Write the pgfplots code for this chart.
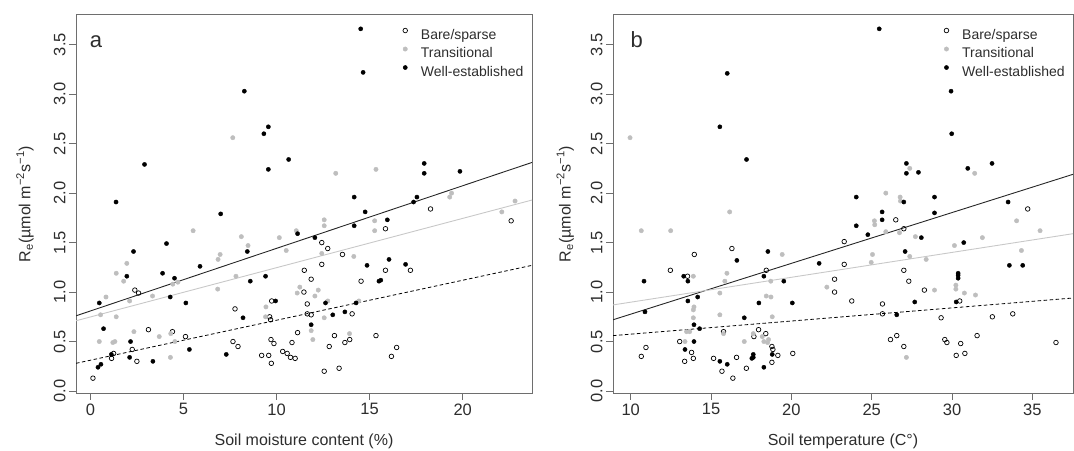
\documentclass[border=0pt]{standalone}
\usepackage{pgfplots}
\pgfplotsset{compat=1.18}
\usepackage{fontspec}
\setmainfont{Liberation Sans}
\definecolor{trans}{RGB}{190,190,190}
\definecolor{transline}{RGB}{200,200,200}
\definecolor{framec}{RGB}{110,110,110}
\definecolor{txt}{RGB}{45,45,45}

\pgfplotsset{
 rstyle/.style={
  scale only axis, height=378pt,
  axis line style={framec, line width=1pt},
  tick align=outside, tick pos=left, major tick length=7pt,
  tick style={framec, line width=0.8pt},
  ymin=-0.02, ymax=3.80, ytick={0,0.5,1,1.5,2,2.5,3,3.5},
  /pgf/number format/assume math mode=true,
  yticklabel style={rotate=90, anchor=south, /pgf/number format/.cd, fixed, fixed zerofill, precision=1},
  ticklabel style={font=\fontsize{16.5}{18}\selectfont, text=txt},
  label style={font=\fontsize{16}{18}\selectfont, text=txt},
  ylabel={R\textsubscript{e}(µmol m\textsuperscript{−2}s\textsuperscript{−1})},
  legend cell align=left,
  legend image code/.code={\draw[#1] plot coordinates {(6pt,5pt)}; \path (0pt,0pt) (20pt,0pt);},
  legend style={draw=none, fill=none, inner sep=0pt, row sep=2pt,
     font=\fontsize{14}{16}\selectfont,
     nodes={inner sep=1.5pt, text height=10.5pt, text depth=3pt, text=txt}},
 },
 bare/.style={only marks, mark=o, mark size=2.3pt, mark options={draw=black, line width=0.7pt}},
 tran/.style={only marks, mark=*, mark size=2.2pt, mark options={draw=trans, fill=trans}},
 well/.style={only marks, mark=*, mark size=2.1pt, mark options={draw=black, fill=black}},
}

\begin{document}
\begin{tikzpicture}
\useasboundingbox (0pt,0pt) rectangle (1074pt,450pt);

% ---------------- Panel a ----------------
\begin{axis}[rstyle, at={(76pt,57pt)}, anchor=south west, width=456pt,
  xmin=-0.77, xmax=23.72, xtick={0,5,10,15,20},
  xlabel={Soil moisture content (\%)},
  xlabel style={at={(axis description cs:0.5,-0.127)}, anchor=center},
  ylabel style={at={(axis description cs:-0.112,0.5)}, anchor=center},
  legend style={at={(axis description cs:0.708,0.968)}, anchor=north west},
]
\addplot[bare] coordinates {
(22.6,1.72) (18.27,1.84) (15.85,1.64) (2.39,1.02) (2.59,0.99) (9.74,0.91) (7.77,0.83)
(9.63,0.75) (9.68,0.72) (3.12,0.62) (4.41,0.60) (5.11,0.55) (7.66,0.50) (7.93,0.45)
(9.70,0.52) (9.86,0.48) (1.25,0.38) (1.14,0.33) (2.25,0.42) (2.5,0.30) (9.2,0.36)
(9.58,0.36) (9.72,0.28) (0.14,0.13)
(12.43,1.50) (12.75,1.44) (13.54,1.38) (12.43,1.28) (15.85,1.22) (17.19,1.22) (11.49,1.22)
(11.86,1.13) (14.54,1.11) (11.47,1.00) (11.65,0.88) (11.65,0.78) (11.86,0.77) (14.06,0.78)
(11.13,0.59) (13.11,0.56) (15.34,0.56) (13.93,0.52) (13.67,0.49) (10.83,0.49) (12.83,0.45)
(16.45,0.44) (10.33,0.40) (10.57,0.38) (10.75,0.34) (11.0,0.33) (16.17,0.35) (13.36,0.23)
(12.56,0.20)
};
\addlegendentry{Bare/sparse}
\addplot[tran] coordinates {
(7.65,2.56) (13.18,2.20) (15.34,2.24) (19.4,2.0) (19.3,1.96) (22.81,1.92) (22.1,1.81)
(12.56,1.73) (12.56,1.67) (15.27,1.72) (5.52,1.62) (8.11,1.56) (8.47,1.47) (10.15,1.55)
(6.97,1.38) (6.86,1.33) (1.96,1.29) (1.39,1.19) (7.82,1.16) (1.79,1.11) (4.43,1.08)
(4.70,1.10) (0.84,0.95) (3.34,0.96) (6.84,1.03) (2.11,0.91) (0.55,0.77) (1.39,0.75)
(9.41,0.75) (2.34,0.60) (4.32,0.58) (3.70,0.55) (0.48,0.50) (1.21,0.49) (1.32,0.50)
(4.54,0.50) (4.30,0.34) (15.27,1.62) (11.06,1.62) (10.52,1.42) (12.43,1.39) (14.15,1.36)
(11.25,1.05) (11.11,0.99) (12.24,1.02) (12.06,0.96) (9.43,0.85) (12.75,0.91) (14.42,0.91)
(12.56,0.74) (11.86,0.61) (13.92,0.58) (11.95,0.52)
};
\addlegendentry{Transitional}
\addplot[well] coordinates {
(8.27,3.03) (9.32,2.60) (9.56,2.67) (9.56,2.24) (2.91,2.29) (1.38,1.91) (7.0,1.79)
(14.52,3.66) (14.65,3.22) (10.65,2.34) (17.93,2.30) (17.93,2.20) (19.85,2.22) (14.17,1.96)
(17.54,1.96) (17.36,1.91) (14.76,1.81) (14.17,1.67) (15.95,1.73) (4.09,1.49) (2.32,1.41)
(8.43,1.41) (5.89,1.26) (3.88,1.19) (1.96,1.16) (4.52,1.14) (9.41,1.16) (8.59,1.11)
(4.29,0.95) (5.13,0.89) (0.48,0.89) (9.95,0.91) (8.2,0.74) (0.71,0.63) (2.16,0.50)
(1.13,0.37) (2.11,0.34) (5.32,0.42) (3.36,0.30) (7.30,0.37) (0.57,0.27) (0.41,0.24)
(11.13,1.59) (12.06,1.55) (16.04,1.33) (16.93,1.28) (14.86,1.27) (15.5,1.11) (15.6,1.12)
(12.63,0.89) (14.27,0.89) (13.02,0.77) (13.67,0.80) (11.86,0.67)
};
\addlegendentry{Well-established}
\addplot[forget plot, color=black!85, line width=0.9pt] coordinates {(-0.77,0.76) (23.72,2.31)};
\addplot[forget plot, color=transline, line width=0.9pt] coordinates {(-0.77,0.71) (23.72,1.93)};
\addplot[forget plot, color=black, line width=0.8pt, dash pattern=on 3.5pt off 2.5pt] coordinates {(-0.77,0.28) (23.72,1.27)};
\node[font=\fontsize{22}{24}\selectfont, text=txt, anchor=center] at (rel axis cs:0.044,0.929) {a};
\end{axis}

% ---------------- Panel b ----------------
\begin{axis}[rstyle, at={(613pt,57pt)}, anchor=south west, width=460pt,
  xmin=8.90, xmax=37.53, xtick={10,15,20,25,30,35},
  xlabel={Soil temperature (C°)},
  xlabel style={at={(axis description cs:0.5,-0.127)}, anchor=center},
  ylabel style={at={(axis description cs:-0.104,0.5)}, anchor=center},
  legend style={at={(axis description cs:0.711,0.968)}, anchor=north west},
]
\addplot[bare] coordinates {
(34.71,1.84) (26.5,1.73) (27.0,1.64) (16.30,1.44) (13.96,1.38) (12.47,1.22) (18.44,1.22)
(13.54,1.16) (17.96,0.62) (15.78,0.60) (18.41,0.58) (17.67,0.55) (13.05,0.50) (18.79,0.45)
(10.95,0.44) (13.79,0.39) (18.85,0.42) (19.16,0.36) (20.09,0.38) (10.66,0.35) (13.90,0.33)
(15.16,0.33) (16.59,0.34) (13.36,0.30) (18.79,0.29) (15.68,0.20) (17.20,0.23) (16.36,0.13)
(23.29,1.51) (23.29,1.28) (27.0,1.22) (22.69,1.13) (27.31,1.11) (28.28,1.02) (22.69,1.0)
(23.76,0.91) (30.48,0.91) (25.67,0.88) (25.67,0.78) (33.78,0.78) (32.51,0.75) (29.32,0.74)
(26.56,0.56) (31.56,0.56) (26.17,0.52) (29.55,0.52) (29.68,0.49) (30.54,0.48) (36.47,0.49)
(27.0,0.45) (30.26,0.36) (30.8,0.38)
};
\addlegendentry{Bare/sparse}
\addplot[tran] coordinates {
(9.96,2.56) (16.16,1.81) (27.37,2.25) (31.41,2.20) (25.88,2.0) (26.77,1.96) (26.79,1.92)
(25.17,1.72) (25.19,1.68) (34.02,1.72) (10.66,1.62) (12.49,1.62) (19.43,1.38) (15.99,1.19)
(13.90,1.16) (15.86,1.11) (18.72,1.11) (15.55,0.99) (18.44,0.96) (18.73,0.95) (13.94,0.85)
(13.9,0.82) (15.55,0.77) (13.90,0.74) (18.81,0.75) (13.48,0.60) (13.67,0.60) (15.78,0.58)
(17.63,0.58) (18.19,0.55) (18.58,0.52) (13.38,0.50) (17.07,0.50) (18.29,0.50) (18.52,0.49)
(25.88,1.61) (26.73,1.60) (27.72,1.56) (31.89,1.55) (35.48,1.62) (30.15,1.47) (34.32,1.42)
(25.05,1.38) (27.37,1.36) (28.39,1.33) (24.97,1.30) (30.24,1.07) (30.24,1.03) (22.21,1.05)
(28.91,1.02) (30.77,0.99) (31.46,0.97) (27.16,0.34)
};
\addlegendentry{Transitional}
\addplot[well] coordinates {
(16.01,3.21) (15.55,2.67) (17.21,2.34) (25.47,3.66) (29.94,3.03) (29.98,2.60) (27.16,2.30)
(27.16,2.20) (27.91,2.21) (30.98,2.25) (32.49,2.30) (24.04,1.96) (27.0,1.91) (28.91,1.96)
(33.49,1.91) (25.65,1.81) (28.91,1.80) (25.65,1.73) (24.04,1.67) (18.54,1.41) (16.61,1.32)
(21.73,1.29) (13.30,1.16) (18.29,1.16) (10.83,1.11) (13.56,1.11) (19.53,1.11) (14.17,0.95)
(13.56,0.91) (17.98,0.89) (20.06,0.89) (10.89,0.80) (17.07,0.74) (13.94,0.67) (14.29,0.63)
(13.94,0.50) (13.38,0.42) (17.63,0.37) (17.63,0.34) (18.81,0.37) (17.54,0.33) (15.55,0.30)
(16.01,0.27) (18.29,0.24) (24.76,1.58) (28.09,1.55) (30.73,1.50) (27.08,1.41) (33.57,1.27)
(34.40,1.27) (30.38,1.19) (30.38,1.17) (30.38,1.14) (27.68,0.90) (30.26,0.90) (26.56,0.77)
};
\addlegendentry{Well-established}
\addplot[forget plot, color=black!85, line width=0.9pt] coordinates {(8.90,0.72) (37.53,2.19)};
\addplot[forget plot, color=transline, line width=0.9pt] coordinates {(8.90,0.87) (37.53,1.59)};
\addplot[forget plot, color=black, line width=0.8pt, dash pattern=on 3.5pt off 2.5pt] coordinates {(8.90,0.56) (37.53,0.94)};
\node[font=\fontsize{22}{24}\selectfont, text=txt, anchor=center] at (rel axis cs:0.0515,0.934) {b};
\end{axis}
\end{tikzpicture}
\end{document}
